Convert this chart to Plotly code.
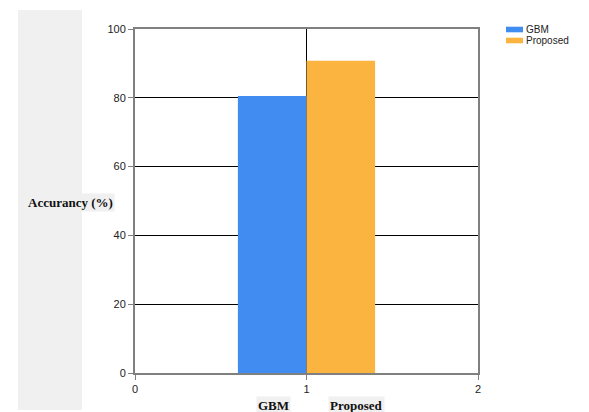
import plotly.graph_objects as go

# Data
x_positions = [1]
series_names = ["GBM", "Proposed"]
gbm_values = [80.5]
proposed_values = [90.8]
category_labels = ["GBM", "Proposed"]
y_title = "Accurancy (%)"

colors = ["#418CF0", "#FCB441"]

# page body has an 8px margin; work in reference pixel coords and shift
OFF = 8
W, H = 589 - OFF, 412 - OFF
L, T = 135 - OFF, 29 - OFF
R = W - (478 - OFF)
B = H - (373 - OFF)
pw, ph = W - L - R, H - T - B

def px_x(p):
    return (p - OFF - L) / pw

def px_y(p):
    return (H - B - (p - OFF)) / ph

fig = go.Figure()
fig.add_trace(go.Bar(x=x_positions, y=gbm_values, name=series_names[0],
                     marker=dict(color=colors[0], line=dict(width=0)),
                     width=0.4, offset=-0.4, showlegend=False))
fig.add_trace(go.Bar(x=x_positions, y=proposed_values, name=series_names[1],
                     marker=dict(color=colors[1], line=dict(width=0)),
                     width=0.4, offset=0, showlegend=False))

tick_font = dict(family="Liberation Sans, Arial, sans-serif", size=11, color="#222")
label_font = dict(family="Liberation Serif, Times New Roman, serif", size=13, color="#111")
legend_font = dict(family="Liberation Sans, Arial, sans-serif", size=10, color="#222")

fig.update_layout(
    width=W, height=H,
    margin=dict(l=L, r=R, t=T, b=B, pad=0, autoexpand=False),
    paper_bgcolor="white", plot_bgcolor="white",
    showlegend=False,
    xaxis=dict(range=[0, 2], tickmode="linear", tick0=0, dtick=1,
               showgrid=True, gridcolor="black", gridwidth=1,
               showline=True, linecolor="#808080", linewidth=2, mirror=True,
               ticks="outside", ticklen=5, tickcolor="#808080",
               tickfont=tick_font, zeroline=False),
    yaxis=dict(range=[0, 100], tickmode="linear", tick0=0, dtick=20,
               showgrid=True, gridcolor="black", gridwidth=1,
               showline=True, linecolor="#808080", linewidth=2, mirror=True,
               ticks="outside", ticklen=5, tickcolor="#808080",
               tickfont=tick_font, zeroline=False),
)

# grey panel on the left
fig.add_shape(type="rect", xref="paper", yref="paper",
              x0=px_x(18), x1=px_x(82), y0=px_y(410), y1=px_y(10),
              fillcolor="#F0F0F0", line=dict(width=0), layer="below")

fig.add_annotation(text="<b>%s</b>" % y_title, xref="paper", yref="paper",
                   x=px_x(70), y=px_y(202), xanchor="center", yanchor="middle",
                   showarrow=False, font=label_font, bgcolor="#F0F0F0", borderpad=1)

for lab, cx in zip(category_labels, [273, 356]):
    fig.add_annotation(text="<b>%s</b>" % lab, xref="paper", yref="paper",
                       x=px_x(cx), y=px_y(405), xanchor="center", yanchor="middle",
                       showarrow=False, font=label_font, bgcolor="#F0F0F0", borderpad=1)

# legend drawn as swatches + labels
for name, col, yc in zip(series_names, colors, [29.5, 40.5]):
    fig.add_shape(type="rect", xref="paper", yref="paper",
                  x0=px_x(506), x1=px_x(523), y0=px_y(yc + 2.8), y1=px_y(yc - 2.8),
                  fillcolor=col, line=dict(width=0))
    fig.add_annotation(text=name, xref="paper", yref="paper",
                       x=px_x(525), y=px_y(yc), xanchor="left", yanchor="middle",
                       showarrow=False, font=legend_font, borderpad=0)

fig.write_html("out.html")
